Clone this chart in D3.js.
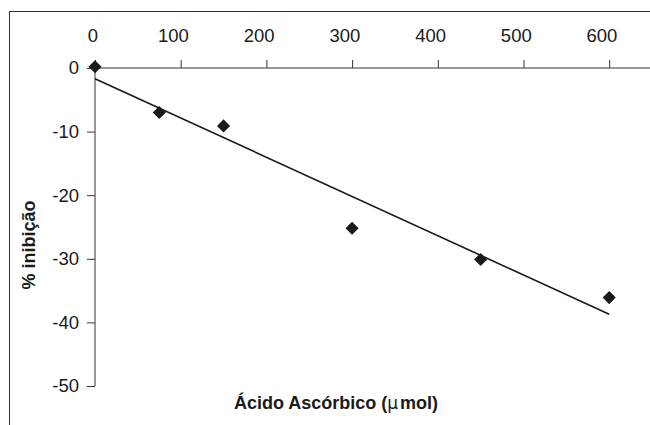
<!DOCTYPE html>
<html>
<head>
<meta charset="utf-8">
<script src="https://cdn.jsdelivr.net/npm/d3@7"></script>
<style>
  html, body { margin: 0; padding: 0; background: #fff; }
  svg { display: block; font-family: "Liberation Sans", Arial, sans-serif; }
</style>
</head>
<body>
<svg id="chart" width="650" height="425"></svg>
<script>
// Data
const acidoAscorbico = [0, 75, 150, 300, 450, 600];       // µmol
const inibicao       = [0.2, -7.0, -9.1, -25.2, -30.1, -36.1]; // %
const xTicks = [0, 100, 200, 300, 400, 500, 600];
const yTicks = [0, -10, -20, -30, -40, -50];

const svg = d3.select("#chart");
const W = 650, H = 425;
const ink = "#1a1a1a";
const fmt = d => String(d);

// outer frame (cut off at right/bottom in reference)
svg.append("rect")
  .attr("x", 9.5).attr("y", 11.5)
  .attr("width", 700).attr("height", 500)
  .attr("fill", "none").attr("stroke", "#333").attr("stroke-width", 1);

const x = d3.scaleLinear().domain([0, 700]).range([95, 95 + 700 * 0.857]);
const y = d3.scaleLinear().domain([-50, 0]).range([386, 68]);

// X axis (top, at y = 0)
const xAxis = d3.axisTop(x).tickValues(xTicks).tickSize(8).tickPadding(18.5)
  .tickFormat(fmt);
const gx = svg.append("g").attr("transform", `translate(0,${y(0)})`).call(xAxis);
gx.select(".domain").attr("d", `M${x(0)},0H${W + 5}`);
gx.selectAll("path, line").attr("stroke", "#333").attr("stroke-width", 1);
gx.selectAll("text")
  .attr("font-size", 18.5).attr("fill", ink)
  .attr("font-family", "'Liberation Sans', Arial, sans-serif")
  .each(function () {
    const w = this.getComputedTextLength();
    d3.select(this).attr("dx", -0.25 * w);
  });

// Y axis
const yAxis = d3.axisLeft(y).tickValues(yTicks).tickSize(8).tickPadding(8)
  .tickFormat(fmt);
const gy = svg.append("g").attr("transform", `translate(${x(0)},0)`).call(yAxis);
gy.select(".domain").attr("d", `M0,${y(0)}V${y(-50)}`);
gy.selectAll("path, line").attr("stroke", "#333").attr("stroke-width", 1);
gy.selectAll("text")
  .attr("font-size", 18.5).attr("fill", ink)
  .attr("font-family", "'Liberation Sans', Arial, sans-serif");

// linear trendline (least squares)
const n = acidoAscorbico.length;
const mx = d3.mean(acidoAscorbico), my = d3.mean(inibicao);
let sxy = 0, sxx = 0;
for (let i = 0; i < n; i++) {
  sxy += (acidoAscorbico[i] - mx) * (inibicao[i] - my);
  sxx += (acidoAscorbico[i] - mx) ** 2;
}
const slope = sxy / sxx, intercept = my - slope * mx;
const xMin = d3.min(acidoAscorbico), xMax = d3.max(acidoAscorbico);
const trend = [[xMin, intercept + slope * xMin], [xMax, intercept + slope * xMax]];
svg.append("path")
  .datum(trend)
  .attr("d", d3.line().x(d => x(d[0])).y(d => y(d[1])))
  .attr("fill", "none").attr("stroke", ink).attr("stroke-width", 1.6);

// diamond markers
const sym = d3.symbol().type(d3.symbolSquare).size(86);
svg.append("g").selectAll("path")
  .data(acidoAscorbico.map((v, i) => [v, inibicao[i]]))
  .join("path")
  .attr("d", sym)
  .attr("transform", d => `translate(${x(d[0])},${y(d[1])}) rotate(45)`)
  .attr("fill", ink);

// axis titles
const xt = svg.append("text")
  .attr("x", 336).attr("y", 409)
  .attr("text-anchor", "middle")
  .attr("font-size", 18).attr("font-weight", "bold").attr("fill", ink);
xt.append("tspan").text("Ácido Ascórbico (");
xt.append("tspan").attr("font-weight", "normal").attr("font-family", "'DejaVu Sans', sans-serif")
  .attr("font-size", 17).text("µ");
xt.append("tspan").attr("dx", 2).text("mol)");

svg.append("text")
  .attr("transform", "translate(35,245) rotate(-90)")
  .attr("text-anchor", "middle")
  .attr("font-size", 18).attr("font-weight", "bold").attr("fill", ink)
  .text("% inibição");
</script>
</body>
</html>
